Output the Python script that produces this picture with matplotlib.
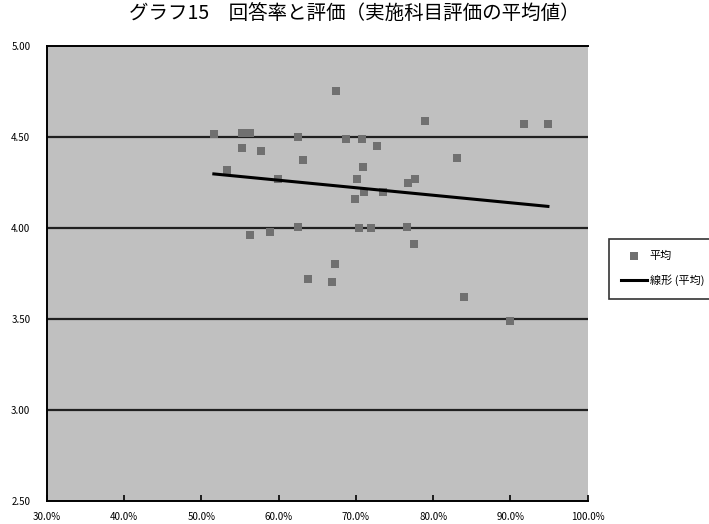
#回答率と評価の散布図（実施科目評価の平均値）と線形近似

import numpy as np
import matplotlib
matplotlib.use('Agg')
import matplotlib.pyplot as plt

plt.rcParams['font.family'] = ['Noto Sans CJK JP', 'DejaVu Sans']

# 回答率(%)
response_rate = [51.6, 55.2, 56.3, 55.25, 57.7, 62.5, 63.1, 53.3, 59.9,
                 67.4, 78.9, 68.65, 70.8, 72.7, 70.95, 70.1, 76.8, 77.7,
                 71.1, 73.5, 69.85,
                 56.3, 58.9, 62.5, 63.8,
                 70.4, 72.0, 76.65, 77.55, 67.25, 66.9,
                 91.7, 94.85, 83.1,
                 84.0, 89.95]
# 平均評価
avg_score = [4.515, 4.52, 4.52, 4.44, 4.42, 4.50, 4.37, 4.317, 4.266,
             4.753, 4.588, 4.486, 4.486, 4.449, 4.332, 4.266, 4.244, 4.266,
             4.195, 4.198, 4.158,
             3.962, 3.978, 4.005, 3.718,
             3.998, 3.998, 4.005, 3.91, 3.80, 3.703,
             4.568, 4.568, 4.381,
             3.621, 3.487]

x_ticks = [30, 40, 50, 60, 70, 80, 90, 100]
y_ticks = [2.5, 3.0, 3.5, 4.0, 4.5, 5.0]

fig = plt.figure(figsize=(7.09, 5.24), dpi=100)
ax = fig.add_axes([47/709, 1 - 500.7/524, (587.7 - 47)/709, (500.7 - 45.7)/524])
ax.set_facecolor('#c0c0c0')

ax.scatter(response_rate, avg_score, marker='s', s=34, color='#707070',
           linewidths=0, zorder=3, label='平均')

# 線形近似
coef = np.polyfit(response_rate, avg_score, 1)
xs = np.array([min(response_rate), max(response_rate)])
ax.plot(xs, np.polyval(coef, xs), color='black', lw=2.2, zorder=4,
        label='線形 (平均)')

ax.set_xlim(30, 100)
ax.set_ylim(2.5, 5.0)
ax.set_xticks(x_ticks)
ax.set_xticklabels(['%.1f%%' % v for v in x_ticks])
ax.set_yticks(y_ticks)
ax.set_yticklabels(['%.2f' % v for v in y_ticks])
ax.tick_params(axis='x', direction='in', length=4, width=1.2, labelsize=7, pad=8)
ax.tick_params(axis='y', length=0, labelsize=7, pad=12)

for y in y_ticks[1:-1]:
    ax.axhline(y, color='#202020', lw=1.6, zorder=2)

ax.spines['left'].set_linewidth(1.4)
ax.spines['bottom'].set_linewidth(1.4)
ax.spines['top'].set_linewidth(1.4)
ax.spines['right'].set_visible(False)

fig.suptitle('グラフ15　回答率と評価（実施科目評価の平均値）',
             y=1 - 4/524, fontsize=14, va='top')

leg = fig.legend(loc='upper left', bbox_to_anchor=(609/709, 1 - 239/524),
                 fontsize=8, frameon=True, fancybox=False,
                 handlelength=2.3, borderpad=1.1, borderaxespad=0,
                 labelspacing=1.2, handletextpad=0.25)
leg.get_frame().set_edgecolor('black')
leg.get_frame().set_linewidth(1.2)

fig.savefig('out.png', dpi=100)
